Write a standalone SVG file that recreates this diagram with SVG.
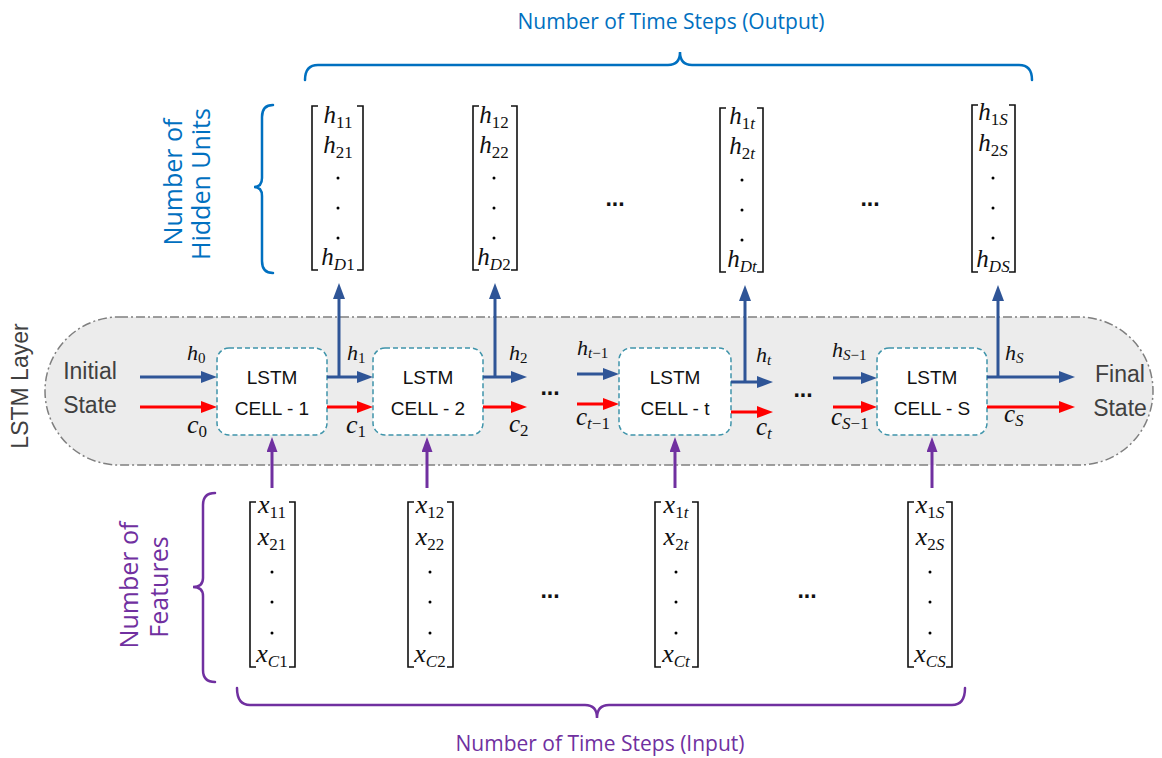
<svg xmlns="http://www.w3.org/2000/svg" width="1162" height="758" viewBox="0 0 1162 758">
<style>
.lbl{font-family:"Open Sans","Liberation Sans",sans-serif}
.gr{font-family:"Liberation Sans",Arial,sans-serif;fill:#404040}
.cell{fill:#fff;stroke:#3f94aa;stroke-width:1.5;stroke-dasharray:5 3}
.ct{font-family:"Liberation Sans",Arial,sans-serif;font-size:19px;fill:#111;text-anchor:middle}
.m{font-family:"Liberation Serif","DejaVu Serif",serif;font-style:italic;fill:#111}
.up{font-style:normal}
.br{fill:none;stroke:#111;stroke-width:1.6}
.dots{font-family:"Liberation Sans",Arial,sans-serif;font-weight:bold;font-size:23px;fill:#111;text-anchor:middle}
.blue{stroke:#2f5597;stroke-width:3;fill:none}
.red{stroke:#ff0000;stroke-width:3;fill:none}
.pur{stroke:#7030a0;stroke-width:3;fill:none}
.brace{fill:none;stroke-width:2.5;stroke-linecap:round}
</style>
<defs>
<marker id="ab" markerUnits="userSpaceOnUse" markerWidth="16" markerHeight="12" refX="6" refY="6" orient="auto"><path d="M0,0 L16,6 L0,12 z" fill="#2f5597"/></marker>
<marker id="ar" markerUnits="userSpaceOnUse" markerWidth="16" markerHeight="12" refX="6" refY="6" orient="auto"><path d="M0,0 L16,6 L0,12 z" fill="#ff0000"/></marker>
<marker id="ap" markerUnits="userSpaceOnUse" markerWidth="15" markerHeight="11" refX="5" refY="5.5" orient="auto"><path d="M0,0 L15,5.5 L0,11 z" fill="#7030a0"/></marker>
</defs>

<g id="lstm-layer">
<rect x="45" y="317" width="1108" height="148" rx="74" fill="#ececec" stroke="#7f7f7f" stroke-width="1.5" stroke-dasharray="9 3 2 3"/>
<text class="gr" font-size="23" text-anchor="middle" transform="translate(28,386) rotate(-90)">LSTM Layer</text>
</g>

<g id="initial-state">
<text class="gr" font-size="23" text-anchor="middle" x="90" y="379">Initial</text>
<text class="gr" font-size="23" text-anchor="middle" x="90" y="413">State</text>
</g>
<g id="final-state">
<text class="gr" font-size="23" text-anchor="middle" x="1120" y="382">Final</text>
<text class="gr" font-size="23" text-anchor="middle" x="1120" y="416">State</text>
</g>

<g id="cell-1"><rect class="cell" x="217" y="348" width="110" height="87" rx="12"/><text class="ct" x="272" y="384">LSTM</text><text class="ct" x="272" y="415">CELL - 1</text></g>
<g id="cell-2"><rect class="cell" x="373" y="348" width="110" height="87" rx="12"/><text class="ct" x="428" y="384">LSTM</text><text class="ct" x="428" y="415">CELL - 2</text></g>
<g id="cell-t"><rect class="cell" x="619" y="348" width="112" height="87" rx="12"/><text class="ct" x="675" y="384">LSTM</text><text class="ct" x="675" y="415">CELL - t</text></g>
<g id="cell-S"><rect class="cell" x="877" y="348" width="110" height="87" rx="12"/><text class="ct" x="932" y="384">LSTM</text><text class="ct" x="932" y="415">CELL - S</text></g>

<g id="connectors">
<line class="blue" x1="140" y1="377" x2="207" y2="377" marker-end="url(#ab)"/>
<line class="red" x1="140" y1="407" x2="207" y2="407" marker-end="url(#ar)"/>
<line class="blue" x1="327" y1="377" x2="363" y2="377" marker-end="url(#ab)"/>
<line class="red" x1="327" y1="407" x2="363" y2="407" marker-end="url(#ar)"/>
<line class="blue" x1="339" y1="378" x2="339" y2="293" marker-end="url(#ab)"/>
<line class="blue" x1="483" y1="377" x2="517" y2="377" marker-end="url(#ab)"/>
<line class="red" x1="483" y1="407" x2="517" y2="407" marker-end="url(#ar)"/>
<line class="blue" x1="495" y1="378" x2="495" y2="293" marker-end="url(#ab)"/>
<line class="blue" x1="577" y1="374" x2="609" y2="374" marker-end="url(#ab)"/>
<line class="red" x1="577" y1="404" x2="609" y2="404" marker-end="url(#ar)"/>
<line class="blue" x1="731" y1="382" x2="763" y2="382" marker-end="url(#ab)"/>
<line class="red" x1="731" y1="412" x2="763" y2="412" marker-end="url(#ar)"/>
<line class="blue" x1="745" y1="383" x2="745" y2="295" marker-end="url(#ab)"/>
<line class="blue" x1="833" y1="378" x2="867" y2="378" marker-end="url(#ab)"/>
<line class="red" x1="833" y1="407" x2="867" y2="407" marker-end="url(#ar)"/>
<line class="blue" x1="987" y1="377" x2="1065" y2="377" marker-end="url(#ab)"/>
<line class="red" x1="987" y1="407" x2="1065" y2="407" marker-end="url(#ar)"/>
<line class="blue" x1="998" y1="378" x2="998" y2="295" marker-end="url(#ab)"/>
<line class="pur" x1="272" y1="488" x2="272" y2="447" marker-end="url(#ap)"/>
<line class="pur" x1="427" y1="488" x2="427" y2="447" marker-end="url(#ap)"/>
<line class="pur" x1="675" y1="488" x2="675" y2="447" marker-end="url(#ap)"/>
<line class="pur" x1="932" y1="488" x2="932" y2="447" marker-end="url(#ap)"/>
</g>

<g id="state-labels">
<text class="m" font-size="22" x="187" y="360">h<tspan class="up" font-size="15" dy="3">0</tspan></text>
<text class="m" font-size="26" x="187" y="433">c<tspan class="up" font-size="17" dy="4">0</tspan></text>
<text class="m" font-size="22" x="347" y="360">h<tspan class="up" font-size="15" dy="3">1</tspan></text>
<text class="m" font-size="26" x="346" y="433">c<tspan class="up" font-size="17" dy="4">1</tspan></text>
<text class="m" font-size="22" x="509" y="360">h<tspan class="up" font-size="15" dy="3">2</tspan></text>
<text class="m" font-size="25" x="509" y="432">c<tspan class="up" font-size="17" dy="4">2</tspan></text>
<text class="m" font-size="22" x="577" y="355">h<tspan font-size="15" dy="3">t<tspan class="up">−1</tspan></tspan></text>
<text class="m" font-size="25" x="576" y="425">c<tspan font-size="17" dy="4">t<tspan class="up">−1</tspan></tspan></text>
<text class="m" font-size="22" x="756" y="362">h<tspan font-size="15" dy="3">t</tspan></text>
<text class="m" font-size="25" x="756" y="435">c<tspan font-size="17" dy="4">t</tspan></text>
<text class="m" font-size="22" x="832" y="357">h<tspan font-size="15" dy="3">S<tspan class="up">−1</tspan></tspan></text>
<text class="m" font-size="25" x="831" y="425">c<tspan font-size="17" dy="4">S<tspan class="up">−1</tspan></tspan></text>
<text class="m" font-size="22" x="1005" y="360">h<tspan font-size="15" dy="3">S</tspan></text>
<text class="m" font-size="25" x="1004" y="422">c<tspan font-size="17" dy="4">S</tspan></text>
<text class="dots" x="550" y="395">...</text>
<text class="dots" x="803" y="397">...</text>
</g>

<g id="output-h1">
<path class="br" d="M318,106 H312 V270 H318 M357,106 H363 V270 H357"/>
<text class="m" font-size="25" text-anchor="middle" x="338" y="123">h<tspan class="up" font-size="17" dy="5">11</tspan></text>
<text class="m" font-size="25" text-anchor="middle" x="338" y="153">h<tspan class="up" font-size="17" dy="5">21</tspan></text>
<circle cx="338" cy="178" r="1.5"/><circle cx="338" cy="208" r="1.5"/><circle cx="338" cy="238" r="1.5"/>
<text class="m" font-size="25" text-anchor="middle" x="338" y="265">h<tspan font-size="17" dy="5">D<tspan class="up">1</tspan></tspan></text>
</g>
<g id="output-h2">
<path class="br" d="M479,106 H473 V270 H479 M511,106 H517 V270 H511"/>
<text class="m" font-size="25" text-anchor="middle" x="494" y="123">h<tspan class="up" font-size="17" dy="5">12</tspan></text>
<text class="m" font-size="25" text-anchor="middle" x="494" y="153">h<tspan class="up" font-size="17" dy="5">22</tspan></text>
<circle cx="494" cy="178" r="1.5"/><circle cx="494" cy="208" r="1.5"/><circle cx="494" cy="238" r="1.5"/>
<text class="m" font-size="25" text-anchor="middle" x="494" y="265">h<tspan font-size="17" dy="5">D<tspan class="up">2</tspan></tspan></text>
</g>
<g id="output-ht">
<path class="br" d="M726,108 H720 V272 H726 M757,108 H763 V272 H757"/>
<text class="m" font-size="25" text-anchor="middle" x="742" y="124">h<tspan font-size="17" dy="5"><tspan class="up">1</tspan>t</tspan></text>
<text class="m" font-size="25" text-anchor="middle" x="742" y="154">h<tspan font-size="17" dy="5"><tspan class="up">2</tspan>t</tspan></text>
<circle cx="742" cy="180" r="1.5"/><circle cx="742" cy="210" r="1.5"/><circle cx="742" cy="240" r="1.5"/>
<text class="m" font-size="25" text-anchor="middle" x="742" y="267">h<tspan font-size="17" dy="5">Dt</tspan></text>
</g>
<g id="output-hS">
<path class="br" d="M978,105 H972 V272 H978 M1009,105 H1015 V272 H1009"/>
<text class="m" font-size="25" text-anchor="middle" x="993" y="120">h<tspan font-size="17" dy="5"><tspan class="up">1</tspan>S</tspan></text>
<text class="m" font-size="25" text-anchor="middle" x="993" y="151">h<tspan font-size="17" dy="5"><tspan class="up">2</tspan>S</tspan></text>
<circle cx="993" cy="178" r="1.5"/><circle cx="993" cy="208" r="1.5"/><circle cx="993" cy="238" r="1.5"/>
<text class="m" font-size="25" text-anchor="middle" x="993" y="267">h<tspan font-size="17" dy="5">DS</tspan></text>
</g>
<text class="dots" x="615" y="206">...</text>
<text class="dots" x="870" y="206">...</text>

<g id="input-x1">
<path class="br" d="M256,502 H250 V667 H256 M289,502 H295 V667 H289"/>
<text class="m" font-size="26" text-anchor="middle" x="272" y="513">x<tspan class="up" font-size="17" dy="5">11</tspan></text>
<text class="m" font-size="26" text-anchor="middle" x="272" y="545">x<tspan class="up" font-size="17" dy="5">21</tspan></text>
<circle cx="272" cy="572" r="1.5"/><circle cx="272" cy="602" r="1.5"/><circle cx="272" cy="633" r="1.5"/>
<text class="m" font-size="26" text-anchor="middle" x="272" y="662">x<tspan font-size="17" dy="5">C<tspan class="up">1</tspan></tspan></text>
</g>
<g id="input-x2">
<path class="br" d="M414,502 H408 V667 H414 M447,502 H453 V667 H447"/>
<text class="m" font-size="26" text-anchor="middle" x="430" y="513">x<tspan class="up" font-size="17" dy="5">12</tspan></text>
<text class="m" font-size="26" text-anchor="middle" x="430" y="545">x<tspan class="up" font-size="17" dy="5">22</tspan></text>
<circle cx="430" cy="572" r="1.5"/><circle cx="430" cy="602" r="1.5"/><circle cx="430" cy="633" r="1.5"/>
<text class="m" font-size="26" text-anchor="middle" x="430" y="662">x<tspan font-size="17" dy="5">C<tspan class="up">2</tspan></tspan></text>
</g>
<g id="input-xt">
<path class="br" d="M661,502 H655 V667 H661 M692,502 H698 V667 H692"/>
<text class="m" font-size="26" text-anchor="middle" x="676" y="513">x<tspan font-size="17" dy="5"><tspan class="up">1</tspan>t</tspan></text>
<text class="m" font-size="26" text-anchor="middle" x="676" y="545">x<tspan font-size="17" dy="5"><tspan class="up">2</tspan>t</tspan></text>
<circle cx="676" cy="572" r="1.5"/><circle cx="676" cy="602" r="1.5"/><circle cx="676" cy="633" r="1.5"/>
<text class="m" font-size="26" text-anchor="middle" x="676" y="662">x<tspan font-size="17" dy="5">Ct</tspan></text>
</g>
<g id="input-xS">
<path class="br" d="M914,502 H908 V667 H914 M946,502 H952 V667 H946"/>
<text class="m" font-size="26" text-anchor="middle" x="930" y="513">x<tspan font-size="17" dy="5"><tspan class="up">1</tspan>S</tspan></text>
<text class="m" font-size="26" text-anchor="middle" x="930" y="545">x<tspan font-size="17" dy="5"><tspan class="up">2</tspan>S</tspan></text>
<circle cx="930" cy="572" r="1.5"/><circle cx="930" cy="602" r="1.5"/><circle cx="930" cy="633" r="1.5"/>
<text class="m" font-size="26" text-anchor="middle" x="930" y="662">x<tspan font-size="17" dy="5">CS</tspan></text>
</g>
<text class="dots" x="550" y="598">...</text>
<text class="dots" x="807" y="598">...</text>

<g id="output-timesteps">
<path class="brace" stroke="#0070c0" d="M305,80 Q305,65 318,65 L668,65 Q680,65 680,52 Q680,65 692,65 L1019,65 Q1032,65 1032,80"/>
<text class="lbl" font-size="21" fill="#0070c0" text-anchor="middle" x="671" y="29">Number of Time Steps (Output)</text>
</g>
<g id="hidden-units">
<path class="brace" stroke="#0070c0" d="M273,105 Q262,105 262,117 L262,178 Q262,187 254,187 Q262,187 262,196 L262,261 Q262,273 273,273"/>
<text class="lbl" font-size="25" fill="#0070c0" text-anchor="middle" transform="translate(182,182) rotate(-90)">Number of</text>
<text class="lbl" font-size="25" fill="#0070c0" text-anchor="middle" transform="translate(210,184) rotate(-90)">Hidden Units</text>
</g>
<g id="features">
<path class="brace" stroke="#7030a0" d="M215,493 Q203,493 203,505 L203,578 Q203,587 193,587 Q203,587 203,596 L203,670 Q203,682 215,682"/>
<text class="lbl" font-size="25" fill="#7030a0" text-anchor="middle" transform="translate(138,585) rotate(-90)">Number of</text>
<text class="lbl" font-size="25" fill="#7030a0" text-anchor="middle" transform="translate(168,587) rotate(-90)">Features</text>
</g>
<g id="input-timesteps">
<path class="brace" stroke="#7030a0" d="M237,688 Q237,705 250,705 L585,705 Q597,705 597,718 Q597,705 609,705 L952,705 Q965,705 965,688"/>
<text class="lbl" font-size="21" fill="#7030a0" text-anchor="middle" x="600" y="751">Number of Time Steps (Input)</text>
</g>
</svg>
